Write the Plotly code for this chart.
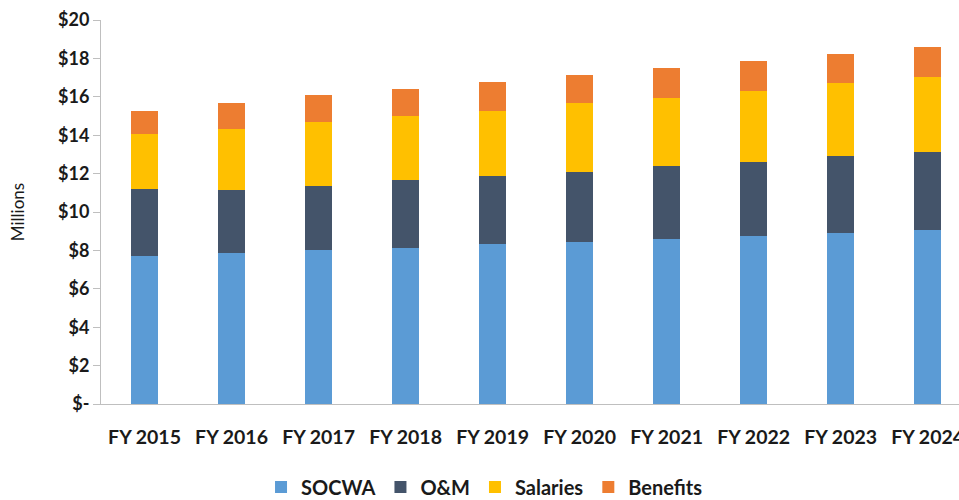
import plotly.graph_objects as go

years = ["FY 2015", "FY 2016", "FY 2017", "FY 2018", "FY 2019",
         "FY 2020", "FY 2021", "FY 2022", "FY 2023", "FY 2024"]
socwa = [7.71, 7.86, 8.00, 8.14, 8.31, 8.44, 8.58, 8.73, 8.91, 9.05]
om = [3.47, 3.29, 3.37, 3.53, 3.58, 3.66, 3.82, 3.89, 4.02, 4.09]
salaries = [2.87, 3.17, 3.32, 3.33, 3.39, 3.56, 3.55, 3.70, 3.77, 3.91]
benefits = [1.23, 1.34, 1.39, 1.39, 1.47, 1.47, 1.53, 1.53, 1.53, 1.56]

y_tickvals = [0, 2, 4, 6, 8, 10, 12, 14, 16, 18, 20]
y_ticktext = ["$-", "$2", "$4", "$6", "$8", "$10", "$12", "$14", "$16", "$18", "$20"]

series = [
    ("SOCWA", socwa, "#5B9BD5"),
    ("O&M", om, "#44546A"),
    ("Salaries", salaries, "#FFC000"),
    ("Benefits", benefits, "#ED7D31"),
]

fig = go.Figure()
for name, vals, color in series:
    fig.add_trace(go.Bar(x=years, y=vals, name=name, marker_color=color,
                         marker_line_width=0))

font_family = "Lato, 'Open Sans', sans-serif"
fig.update_layout(
    barmode="stack",
    bargap=0.69,
    width=959,
    height=500,
    margin=dict(l=101, r=0, t=20, b=96, autoexpand=False),
    plot_bgcolor="white",
    paper_bgcolor="white",
    font=dict(family=font_family, color="#1a1a1a"),
    legend=dict(orientation="h", x=0.447, xanchor="center", y=-0.216,
                yanchor="middle", font=dict(size=20, family=font_family, weight="bold"),
                traceorder="normal", itemwidth=30),
    xaxis=dict(range=[-0.5, 9.36], showline=True, linecolor="#BFBFBF", linewidth=1,
               ticks="", tickfont=dict(size=19.5, family=font_family, weight="bold"),
               ticklabelstandoff=16, showgrid=False, automargin=False,
               ticklabeloverflow="allow"),
    yaxis=dict(range=[0, 20], tickvals=y_tickvals, ticktext=y_ticktext,
               showline=True, linecolor="#BFBFBF", linewidth=1, ticks="outside",
               ticklen=7, tickcolor="#BFBFBF", showgrid=False, automargin=False,
               tickfont=dict(size=18, family=font_family, weight="bold"),
               title=dict(text="Millions", font=dict(size=17, family=font_family), standoff=29)),
)

fig.write_html("out.html", config={"displayModeBar": False},
               post_script="document.body.style.margin='0';document.body.style.overflow='hidden';")
